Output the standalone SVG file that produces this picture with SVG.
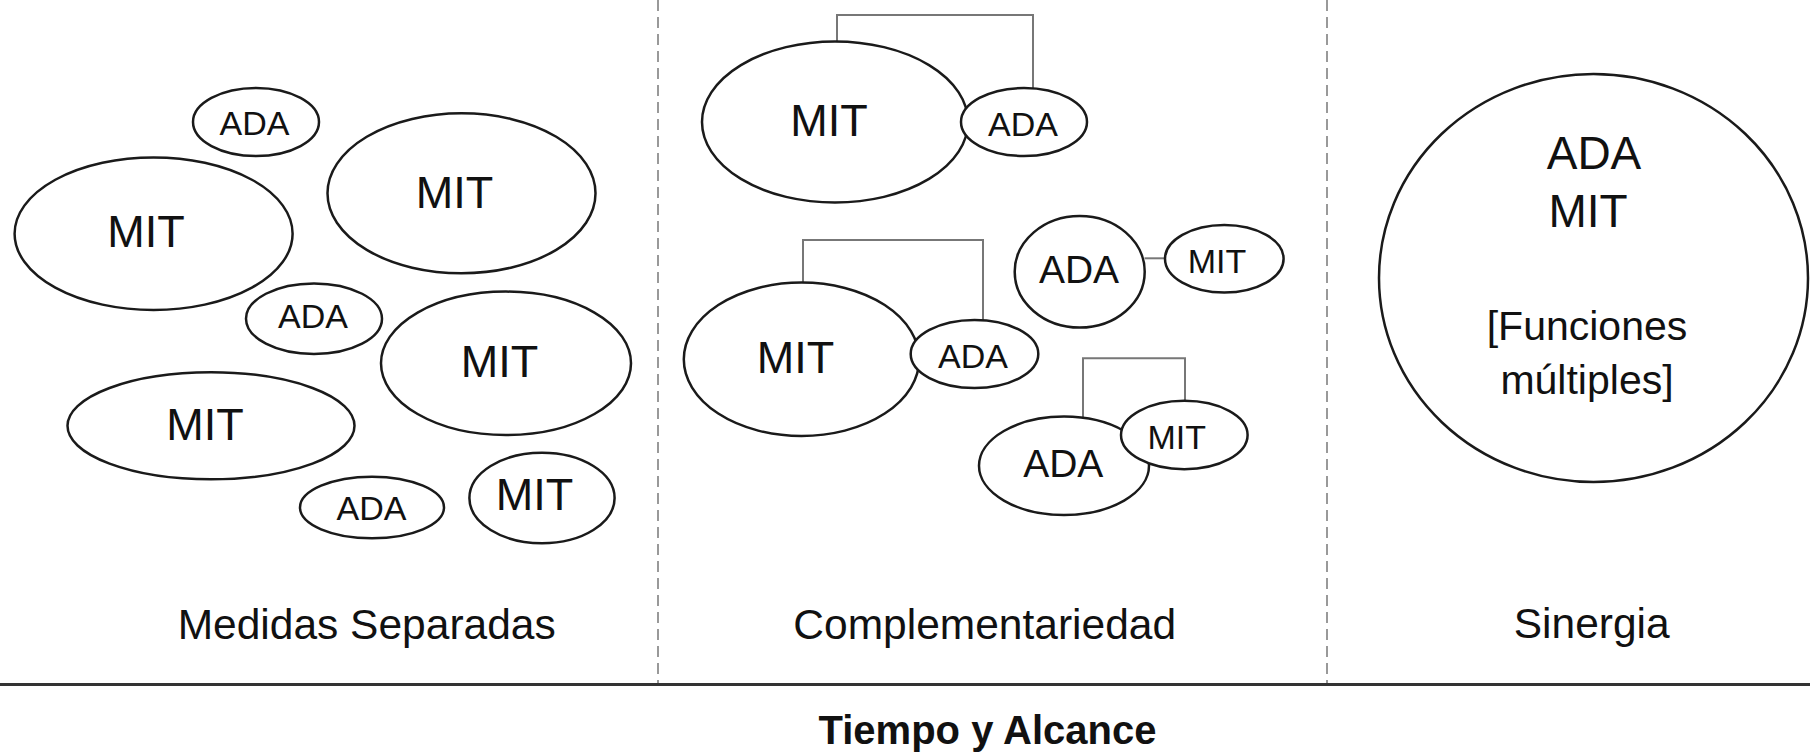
<svg xmlns="http://www.w3.org/2000/svg" width="1810" height="752" viewBox="0 0 1810 752">
  <style>
    .node { fill: #ffffff; stroke: #1a1a1a; stroke-width: 2.5; }
    .lbl { font-family: "Liberation Sans", Arial, sans-serif; fill: #111111; text-anchor: middle; }
    .big { font-size: 45px; }
    .small { font-size: 34px; }
    .mid { font-size: 39px; }
    .conn { fill: none; stroke: #777777; stroke-width: 2; }
    .divider { stroke: #999999; stroke-width: 2; stroke-dasharray: 11 6; }
    .axis { stroke: #333333; stroke-width: 3; }
    .cap { font-family: "Liberation Sans", Arial, sans-serif; font-size: 42.5px; fill: #111111; text-anchor: middle; }
    .title { font-family: "Liberation Sans", Arial, sans-serif; font-size: 40px; font-weight: bold; fill: #111111; text-anchor: middle; }
  </style>
  <rect x="0" y="0" width="1810" height="752" fill="#ffffff"/>

  <g id="frame">
    <line class="divider" x1="658" y1="0" x2="658" y2="684"/>
    <line class="divider" x1="1327" y1="0" x2="1327" y2="684"/>
    <line class="axis" x1="0" y1="684.5" x2="1810" y2="684.5"/>
  </g>

  <g id="connectors">
    <path class="conn" d="M837,41.5 V15 H1033 V88.5"/>
    <path class="conn" d="M803,282.7 V240 H983 V320.3"/>
    <path class="conn" d="M1144.5,258.3 H1165.5"/>
    <path class="conn" d="M1083,417.8 V358.3 H1185 V400.8"/>
  </g>

  <!-- Panel 1: Medidas Separadas -->
  <g id="p1-ada-1"><ellipse class="node" cx="256" cy="122" rx="63" ry="34"/><text class="lbl small" x="254.5" y="135">ADA</text></g>
  <g id="p1-mit-1"><ellipse class="node" cx="153.6" cy="233.7" rx="139" ry="76.3"/><text class="lbl big" x="146" y="246.7">MIT</text></g>
  <g id="p1-mit-2"><ellipse class="node" cx="461.5" cy="193.3" rx="134" ry="80"/><text class="lbl big" x="454.5" y="207.7">MIT</text></g>
  <g id="p1-ada-2"><ellipse class="node" cx="314" cy="318.7" rx="68" ry="35.3"/><text class="lbl small" x="313" y="328">ADA</text></g>
  <g id="p1-mit-3"><ellipse class="node" cx="506" cy="363.3" rx="125" ry="71.7"/><text class="lbl big" x="499.5" y="376.7">MIT</text></g>
  <g id="p1-mit-4"><ellipse class="node" cx="211" cy="425.8" rx="143.5" ry="53.5"/><text class="lbl big" x="205" y="440">MIT</text></g>
  <g id="p1-ada-3"><ellipse class="node" cx="372" cy="507.5" rx="72" ry="30.8"/><text class="lbl small" x="371.5" y="520">ADA</text></g>
  <g id="p1-mit-5"><ellipse class="node" cx="542" cy="498" rx="72.6" ry="45.3"/><text class="lbl big" x="534.5" y="510">MIT</text></g>

  <!-- Panel 2: Complementariedad -->
  <g id="p2-mit-top"><ellipse class="node" cx="835" cy="122" rx="133" ry="80.5"/><text class="lbl big" x="829" y="136">MIT</text></g>
  <g id="p2-ada-top"><ellipse class="node" cx="1024" cy="122" rx="63" ry="34"/><text class="lbl small" x="1023" y="136">ADA</text></g>
  <g id="p2-mit-mid"><ellipse class="node" cx="801.5" cy="359.3" rx="117.7" ry="76.7"/><text class="lbl big" x="795.5" y="372.7">MIT</text></g>
  <g id="p2-ada-mid"><ellipse class="node" cx="974.5" cy="354" rx="63.8" ry="34"/><text class="lbl small" x="973" y="368.3">ADA</text></g>
  <g id="p2-ada-right"><ellipse class="node" cx="1079.7" cy="271.8" rx="65" ry="55.8"/><text class="lbl mid" x="1079" y="283.3">ADA</text></g>
  <g id="p2-mit-right"><ellipse class="node" cx="1224.3" cy="258.8" rx="59.3" ry="33.8"/><text class="lbl small" x="1217" y="272.7">MIT</text></g>
  <g id="p2-ada-bottom"><ellipse class="node" cx="1064" cy="465.8" rx="85" ry="49.2"/><text class="lbl mid" x="1063.3" y="477.3">ADA</text></g>
  <g id="p2-mit-bottom"><ellipse class="node" cx="1184.3" cy="435" rx="63.3" ry="34.2"/><text class="lbl small" x="1176.7" y="449.3">MIT</text></g>

  <!-- Panel 3: Sinergia -->
  <g id="p3-synergy">
    <ellipse class="node" cx="1593.5" cy="278" rx="214.5" ry="204"/>
    <text class="lbl" style="font-size:46px" x="1594" y="169.3">ADA</text>
    <text class="lbl" style="font-size:46px" x="1588" y="226.7">MIT</text>
    <text class="lbl" style="font-size:41px" x="1587" y="340">[Funciones</text>
    <text class="lbl" style="font-size:41px" x="1587" y="394">múltiples]</text>
  </g>

  <g id="captions">
    <text class="cap" x="366.7" y="638.5">Medidas Separadas</text>
    <text class="cap" x="984.7" y="638.5">Complementariedad</text>
    <text class="cap" x="1591.7" y="638">Sinergia</text>
    <text class="title" x="987.5" y="744">Tiempo y Alcance</text>
  </g>
</svg>
